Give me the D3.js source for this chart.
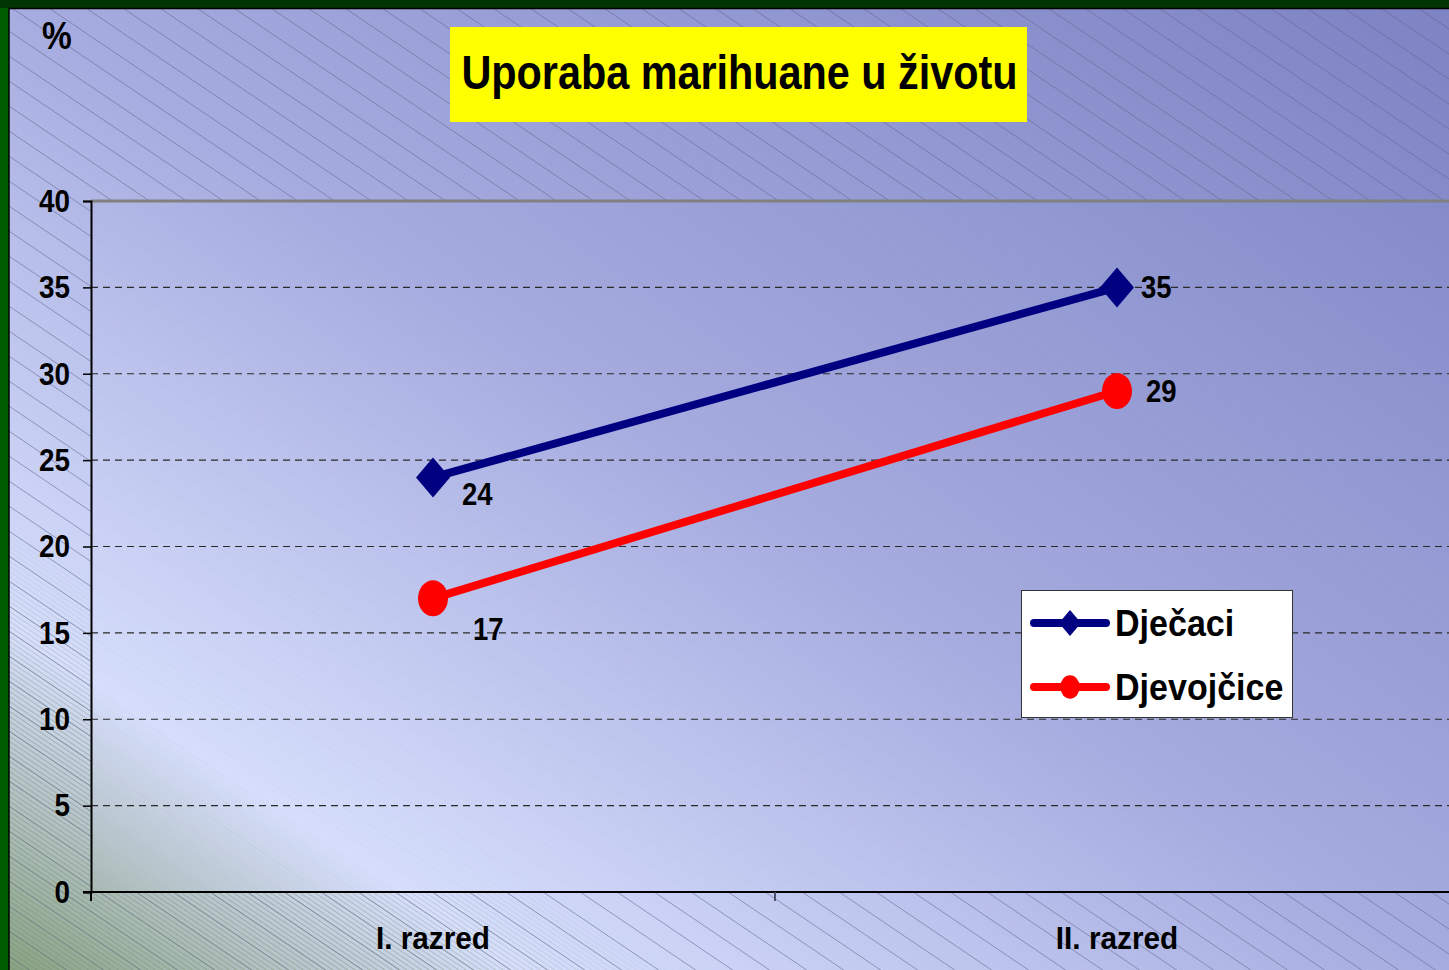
<!DOCTYPE html>
<html>
<head>
<meta charset="utf-8">
<script src="https://cdn.jsdelivr.net/npm/d3@7"></script>
<style>
  html, body { margin: 0; padding: 0; overflow: hidden; }
  text { font-family: "Liberation Sans", Arial, sans-serif; font-weight: bold; }
</style>
</head>
<body>
<script>
var categories = ["I. razred", "II. razred"];
var seriesNames = ["Dječaci", "Djevojčice"];
var boys = [24, 35];
var girls = [17, 29];
var yTicks = [0, 5, 10, 15, 20, 25, 30, 35, 40];
var title = "Uporaba marihuane u životu";

// no narrow font installed, so squeeze text horizontally around its x
function squeeze(sel, k) {
  sel.each(function() {
    var t = d3.select(this);
    var x0 = +t.attr("x") || 0;
    t.attr("transform", "translate(" + x0 + ",0) scale(" + k + ",1) translate(" + (-x0) + ",0)");
  });
}

function drawChart() {
  var W = 1449, H = 970;
  var svg = d3.select("body").append("svg")
    .attr("width", W)
    .attr("height", H);

  var defs = svg.append("defs");

  // background gradient, light band to bottom-left, green corner
  var grad = defs.append("linearGradient")
    .attr("id", "bg")
    .attr("gradientUnits", "userSpaceOnUse")
    .attr("x1", 1068).attr("y1", -256)
    .attr("x2", 164).attr("y2", 1081);
  [[0, "#7d83c3"], [0.5, "#a6acdf"], [0.82, "#d6defc"], [0.9, "#b6c3c8"], [1, "#87a07f"]]
    .forEach(function(s) { grad.append("stop").attr("offset", s[0]).attr("stop-color", s[1]); });

  // diagonal hatch pattern
  var hatch = defs.append("pattern")
    .attr("id", "hatch")
    .attr("patternUnits", "userSpaceOnUse")
    .attr("width", 37).attr("height", 25);
  hatch.append("path")
    .attr("d", "M-37,-25 L74,50 M-37,0 L37,50 M0,-25 L74,25")
    .attr("stroke", "#5a6288").attr("stroke-width", 1).attr("stroke-opacity", 0.55);

  var dense = defs.append("pattern")
    .attr("id", "dense")
    .attr("patternUnits", "userSpaceOnUse")
    .attr("width", 7.4).attr("height", 5);
  dense.append("path")
    .attr("d", "M-7.4,-5 L14.8,10 M-7.4,0 L7.4,10 M0,-5 L14.8,5")
    .attr("stroke", "#6f8c6a").attr("stroke-width", 0.8).attr("stroke-opacity", 0.6);

  var maskGrad = defs.append("linearGradient")
    .attr("id", "maskGrad")
    .attr("gradientUnits", "userSpaceOnUse")
    .attr("x1", 1068).attr("y1", -256)
    .attr("x2", 164).attr("y2", 1081);
  [[0, "black"], [0.76, "black"], [0.86, "white"], [1, "white"]]
    .forEach(function(s) { maskGrad.append("stop").attr("offset", s[0]).attr("stop-color", s[1]); });
  defs.append("mask").attr("id", "cornerMask")
    .append("rect").attr("width", W).attr("height", H).attr("fill", "url(#maskGrad)");

  svg.append("rect").attr("width", W).attr("height", H).attr("fill", "url(#bg)");
  svg.append("rect").attr("width", W).attr("height", H).attr("fill", "url(#hatch)");
  svg.append("rect").attr("width", W).attr("height", H).attr("fill", "url(#dense)")
    .attr("mask", "url(#cornerMask)");

  // frame
  svg.append("rect").attr("x", 0).attr("y", 0).attr("width", 9).attr("height", H).attr("fill", "#005c00");
  svg.append("rect").attr("x", 0).attr("y", 0).attr("width", W).attr("height", 8).attr("fill", "#003400");
  svg.append("line").attr("x1", 9).attr("x2", 9).attr("y1", 8).attr("y2", H).attr("stroke", "#000").attr("stroke-width", 1.5);
  svg.append("line").attr("x1", 9).attr("x2", W).attr("y1", 8.5).attr("y2", 8.5).attr("stroke", "#000").attr("stroke-width", 1.5);

  var left = 91, top = 201, bottom = 892, bandW = 684;

  var x = d3.scaleBand()
    .domain(categories)
    .range([left, left + 2 * bandW])
    .padding(0);
  var y = d3.scaleLinear()
    .domain([0, 40])
    .range([bottom, top]);

  // plot area
  svg.append("rect")
    .attr("x", left).attr("y", top)
    .attr("width", W - left).attr("height", bottom - top)
    .attr("fill", "url(#bg)").attr("fill-opacity", 0.92);

  // grid
  svg.append("g")
    .selectAll("line")
    .data(yTicks.filter(function(d) { return d > 0 && d < 40; }))
    .join("line")
    .attr("x1", left).attr("x2", W)
    .attr("y1", function(d) { return y(d); })
    .attr("y2", function(d) { return y(d); })
    .attr("stroke", "#2a2a2a").attr("stroke-width", 1.2)
    .attr("stroke-dasharray", "7,5");

  // top border
  svg.append("line").attr("x1", left).attr("x2", W).attr("y1", top).attr("y2", top)
    .attr("stroke", "#808080").attr("stroke-width", 3);

  // y axis
  var yAxis = svg.append("g")
    .attr("transform", "translate(" + left + ",0)")
    .call(d3.axisLeft(y).tickValues(yTicks).tickSize(8).tickPadding(13));
  yAxis.select(".domain").attr("stroke", "#000").attr("stroke-width", 2);
  yAxis.selectAll(".tick line").attr("stroke", "#000").attr("stroke-width", 1.5);
  yAxis.selectAll("text")
    .attr("font-size", 32).attr("fill", "#000")
    .attr("font-family", "Liberation Sans, Arial, sans-serif")
    .attr("font-weight", "bold")
    .call(squeeze, 0.87);

  // x axis
  var xAxis = svg.append("g")
    .attr("transform", "translate(0," + bottom + ")")
    .call(d3.axisBottom(x).tickSize(0).tickPadding(34));
  xAxis.select(".domain").remove();
  xAxis.selectAll("text")
    .attr("font-size", 32).attr("fill", "#000")
    .attr("font-family", "Liberation Sans, Arial, sans-serif")
    .attr("font-weight", "bold")
    .call(squeeze, 0.93);
  svg.append("line").attr("x1", left - 8).attr("x2", W).attr("y1", bottom).attr("y2", bottom)
    .attr("stroke", "#000").attr("stroke-width", 2);
  svg.append("g")
    .selectAll("line")
    .data([0, 1])
    .join("line")
    .attr("x1", function(i) { return left + i * x.bandwidth(); })
    .attr("x2", function(i) { return left + i * x.bandwidth(); })
    .attr("y1", bottom).attr("y2", bottom + 9)
    .attr("stroke", function(i) { return i ? "#4a5068" : "#000"; })
    .attr("stroke-width", 2);

  var cx = function(d, i) { return x(categories[i]) + x.bandwidth() / 2; };

  var line = d3.line()
    .x(function(d, i) { return cx(d, i); })
    .y(function(d) { return y(d); });

  var series = [
    { name: seriesNames[0], values: boys, color: "#000080", marker: "diamond" },
    { name: seriesNames[1], values: girls, color: "#ff0000", marker: "circle" }
  ];

  function drawMarker(g, type, px, py, s) {
    if (type === "diamond") {
      g.append("path")
        .attr("d", "M" + px + "," + (py - 20 * s) + " L" + (px + 17 * s) + "," + py +
          " L" + px + "," + (py + 20 * s) + " L" + (px - 17 * s) + "," + py + "Z")
        .attr("fill", "#000080");
    } else {
      g.append("ellipse")
        .attr("cx", px).attr("cy", py)
        .attr("rx", 15 * s).attr("ry", 18 * s)
        .attr("fill", "#ff0000");
    }
  }

  series.forEach(function(sr) {
    var g = svg.append("g");
    g.append("path")
      .attr("d", line(sr.values))
      .attr("fill", "none")
      .attr("stroke", sr.color)
      .attr("stroke-width", 8);
    sr.values.forEach(function(v, i) {
      drawMarker(g, sr.marker, cx(v, i), y(v), 1);
      var lx = cx(v, i), ly = y(v);
      var t = g.append("text")
        .attr("font-size", 32).attr("fill", "#000")
        .text(v);
      if (i === 0) {
        t.attr("x", lx + (sr.marker === "diamond" ? 29 : 40))
         .attr("y", ly + (sr.marker === "diamond" ? 28 : 42));
      } else {
        t.attr("x", lx + (sr.marker === "diamond" ? 24 : 29))
         .attr("y", ly + 11);
      }
      squeeze(t, 0.86);
    });
  });

  // title
  svg.append("rect")
    .attr("x", 450).attr("y", 27).attr("width", 577).attr("height", 95)
    .attr("fill", "#ffff00");
  svg.append("text")
    .attr("x", 739.5).attr("y", 89)
    .attr("text-anchor", "middle")
    .attr("font-size", 48).attr("fill", "#000")
    .text(title)
    .call(squeeze, 0.862);

  // % label
  svg.append("text")
    .attr("x", 42).attr("y", 49)
    .attr("font-size", 38).attr("fill", "#000")
    .text("%")
    .call(squeeze, 0.88);

  // legend
  var lg = svg.append("g");
  lg.append("rect")
    .attr("x", 1021.5).attr("y", 590.5).attr("width", 271).attr("height", 127)
    .attr("fill", "#fff").attr("stroke", "#333").attr("stroke-width", 1);
  series.forEach(function(sr, i) {
    var ly = 623 + i * 64;
    lg.append("line")
      .attr("x1", 1034).attr("x2", 1106).attr("y1", ly).attr("y2", ly)
      .attr("stroke", sr.color).attr("stroke-width", 8).attr("stroke-linecap", "round");
    drawMarker(lg, sr.marker, 1070, ly, 0.65);
    lg.append("text")
      .attr("x", 1115).attr("y", ly + 13)
      .attr("font-size", 37).attr("fill", "#000")
      .text(sr.name)
      .call(squeeze, 0.92);
  });
}

document.addEventListener("DOMContentLoaded", function(event) {
  drawChart();
});
</script>
</body>
</html>
